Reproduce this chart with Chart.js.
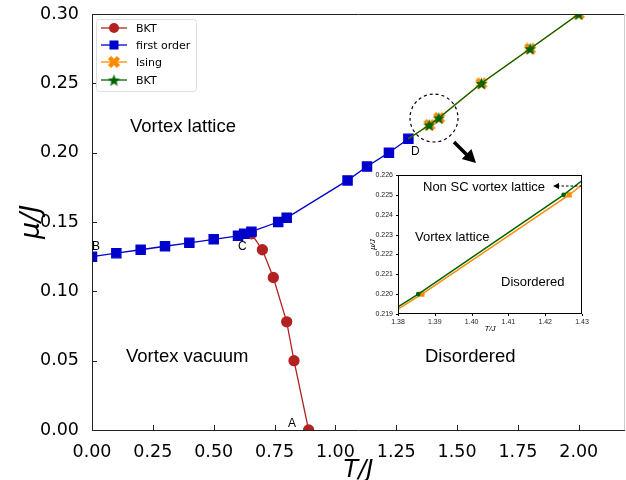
<!DOCTYPE html>
<html>
<head>
<meta charset="utf-8">
<script src="https://cdn.jsdelivr.net/npm/chart.js@4"></script>
<style>
  html, body { margin: 0; padding: 0; background: #fff; }
  #wrap { position: relative; width: 626px; height: 480px; }
  #main { position: absolute; left: 0; top: 0; }
  #inset { position: absolute; left: 360px; top: 170px; }
</style>
</head>
<body>
<div id="wrap">
  <canvas id="main" width="626" height="480"></canvas>
  <canvas id="inset" width="236" height="170"></canvas>
</div>
<script>
// data
const tBKT = [0.655, 0.70, 0.745, 0.80, 0.83, 0.89];
const muBKT = [0.1415, 0.13, 0.11, 0.078, 0.05, 0.0];

const tFirst = [0, 0.1, 0.2, 0.3, 0.4, 0.5, 0.6, 0.625, 0.655, 0.765, 0.8, 1.05, 1.13, 1.22, 1.3];
const muFirst = [0.125, 0.1275, 0.13, 0.1325, 0.135, 0.1375, 0.14, 0.1415, 0.143, 0.15, 0.153, 0.18, 0.19, 0.20, 0.21];

const tIsing = [1.3, 1.3865, 1.4265, 1.6, 1.8, 2.0];
const muIsing = [0.21, 0.22, 0.225, 0.25, 0.275, 0.30];

const tBKT2 = [1.3, 1.3855, 1.425, 1.6, 1.8, 2.0];
const muBKT2 = [0.21, 0.22, 0.225, 0.25, 0.275, 0.30];

const xTicks = [0, 0.25, 0.5, 0.75, 1.0, 1.25, 1.5, 1.75, 2.0];
const yTicks = [0, 0.05, 0.10, 0.15, 0.20, 0.25, 0.30];
const insetXTicks = [1.38, 1.39, 1.40, 1.41, 1.42, 1.43];
const insetYTicks = [0.219, 0.220, 0.221, 0.222, 0.223, 0.224, 0.225, 0.226];

const RED = '#b22222', BLUE = '#0000cd', ORANGE = '#ff8c00', GREEN = '#006400';
const TICK_FONT = 'DejaVu Sans';
const NOTE_FONT = '"Liberation Sans", Arial, sans-serif';

function pts(xs, ys) { return xs.map((x, i) => ({ x: x, y: ys[i] })); }

// no extra label padding around the plot box
function noPad(s) { s.paddingTop = 0; s.paddingBottom = 0; s.paddingLeft = 0; s.paddingRight = 0; }

// filled marker images (matplotlib-like 'X' and '*')
function starImg(color, r) {
  const c = document.createElement('canvas');
  c.width = c.height = Math.ceil(r * 2 + 2);
  const g = c.getContext('2d');
  const cx = c.width / 2, cy = c.height / 2 + r * 0.1;
  g.beginPath();
  for (let i = 0; i < 10; i++) {
    const rr = i % 2 ? r * 0.42 : r;
    const a = -Math.PI / 2 + i * Math.PI / 5;
    g.lineTo(cx + rr * Math.cos(a), cy + rr * Math.sin(a));
  }
  g.closePath();
  g.fillStyle = color;
  g.fill();
  return c;
}
function xImg(color, r) {
  const c = document.createElement('canvas');
  c.width = c.height = Math.ceil(r * 2 + 2);
  const g = c.getContext('2d');
  const cx = c.width / 2, cy = c.height / 2;
  g.strokeStyle = color;
  g.lineWidth = r * 0.75;
  g.beginPath();
  g.moveTo(cx - r * 0.75, cy - r * 0.75); g.lineTo(cx + r * 0.75, cy + r * 0.75);
  g.moveTo(cx + r * 0.75, cy - r * 0.75); g.lineTo(cx - r * 0.75, cy + r * 0.75);
  g.stroke();
  return c;
}
const starMark = starImg(GREEN, 6.5);
const xMark = xImg(ORANGE, 6);

function drawArrowHead(ctx, x1, y1, x2, y2, len, wid) {
  const a = Math.atan2(y2 - y1, x2 - x1);
  ctx.beginPath();
  ctx.moveTo(x2, y2);
  ctx.lineTo(x2 - len * Math.cos(a) + wid * Math.sin(a), y2 - len * Math.sin(a) - wid * Math.cos(a));
  ctx.lineTo(x2 - len * Math.cos(a) - wid * Math.sin(a), y2 - len * Math.sin(a) + wid * Math.cos(a));
  ctx.closePath();
  ctx.fill();
}

const mainDecor = {
  id: 'mainDecor',
  afterDraw(chart) {
    const ctx = chart.ctx;
    const a = chart.chartArea;
    const xs = chart.scales.x, ys = chart.scales.y;
    ctx.save();

    // spines
    ctx.lineWidth = 1;
    ctx.strokeStyle = '#222';
    ctx.beginPath();
    ctx.moveTo(a.left + 0.5, a.top); ctx.lineTo(a.left + 0.5, a.bottom + 0.5);
    ctx.lineTo(a.right, a.bottom + 0.5);
    ctx.moveTo(a.left, a.top + 0.5); ctx.lineTo(a.right, a.top + 0.5);
    ctx.stroke();
    ctx.strokeStyle = '#ccc';
    ctx.beginPath();
    ctx.moveTo(a.right - 0.5, a.top); ctx.lineTo(a.right - 0.5, a.bottom);
    ctx.stroke();

    // inward ticks
    ctx.strokeStyle = '#222';
    ctx.beginPath();
    xTicks.forEach(v => {
      const p = Math.round(xs.getPixelForValue(v)) + 0.5;
      ctx.moveTo(p, a.bottom); ctx.lineTo(p, a.bottom - 5);
    });
    yTicks.forEach(v => {
      const p = Math.round(ys.getPixelForValue(v)) + 0.5;
      ctx.moveTo(a.left, p); ctx.lineTo(a.left + 5, p);
    });
    ctx.stroke();

    // axis titles
    ctx.fillStyle = '#000';
    ctx.textAlign = 'center';
    ctx.textBaseline = 'alphabetic';
    ctx.font = 'italic 24px ' + TICK_FONT;
    ctx.fillText('T/J', (a.left + a.right) / 2, 477);
    ctx.save();
    ctx.translate(39, (a.top + a.bottom) / 2);
    ctx.rotate(-Math.PI / 2);
    ctx.font = 'italic 27px ' + TICK_FONT;
    ctx.fillText('\u03bc/J', 0, 0);
    ctx.restore();

    // region labels
    ctx.textAlign = 'left';
    ctx.font = '18.5px ' + NOTE_FONT;
    ctx.fillText('Vortex lattice', 130, 132);
    ctx.fillText('Vortex vacuum', 126, 362);
    ctx.fillText('Disordered', 425, 362);

    ctx.font = '12px ' + NOTE_FONT;
    ctx.fillText('B', 92, 250);
    ctx.fillText('C', 238, 250);
    ctx.fillText('D', 411, 155);
    ctx.fillText('A', 288, 427);

    // dashed zoom circle + arrow
    ctx.strokeStyle = '#000';
    ctx.lineWidth = 1.2;
    ctx.setLineDash([3, 3]);
    ctx.beginPath();
    ctx.arc(434, 118, 24, 0, Math.PI * 2);
    ctx.stroke();
    ctx.setLineDash([]);
    ctx.lineWidth = 3.5;
    ctx.beginPath();
    ctx.moveTo(454, 142); ctx.lineTo(467, 155);
    ctx.stroke();
    ctx.fillStyle = '#000';
    drawArrowHead(ctx, 454, 142, 476, 163, 13, 7);

    // legend
    ctx.fillStyle = 'rgba(255,255,255,0.85)';
    ctx.strokeStyle = '#ddd';
    ctx.lineWidth = 1;
    ctx.beginPath();
    ctx.roundRect(96.5, 19.5, 100, 72, 3);
    ctx.fill(); ctx.stroke();
    const rows = [28, 45, 62, 80];
    chart.data.datasets.forEach((ds, i) => {
      const y = rows[i];
      ctx.strokeStyle = ds.borderColor;
      ctx.lineWidth = 1.3;
      ctx.beginPath();
      ctx.moveTo(101, y); ctx.lineTo(127, y);
      ctx.stroke();
      const st = ds.pointStyle;
      if (st === 'circle') {
        ctx.fillStyle = ds.borderColor;
        ctx.beginPath(); ctx.arc(114, y, 5, 0, Math.PI * 2); ctx.fill();
      } else if (st === 'rect') {
        ctx.fillStyle = ds.borderColor;
        ctx.fillRect(109.5, y - 4.5, 9, 9);
      } else {
        ctx.drawImage(st, 114 - st.width / 2, y - st.height / 2);
      }
      ctx.fillStyle = '#000';
      ctx.font = '11px ' + TICK_FONT;
      ctx.textBaseline = 'middle';
      ctx.fillText(ds.label, 136, y + 1);
    });
    ctx.restore();
  }
};

const markRadius = [0, 6, 6, 6, 6, 6];

new Chart(document.getElementById('main'), {
  type: 'line',
  data: {
    datasets: [
      { label: 'BKT', data: pts(tBKT, muBKT), borderColor: RED, backgroundColor: RED,
        pointStyle: 'circle', pointRadius: 5, borderWidth: 1.3, order: 3, clip: 0 },
      { label: 'first order', data: pts(tFirst, muFirst), borderColor: BLUE, backgroundColor: BLUE,
        pointStyle: 'rect', pointRadius: 6.5, borderWidth: 1.3, order: 2, clip: 0 },
      { label: 'Ising', data: pts(tIsing, muIsing), borderColor: ORANGE, backgroundColor: ORANGE,
        pointStyle: xMark, pointRadius: markRadius, borderWidth: 1.3, order: 1, clip: 0 },
      { label: 'BKT', data: pts(tBKT2, muBKT2), borderColor: GREEN, backgroundColor: GREEN,
        pointStyle: starMark, pointRadius: markRadius, borderWidth: 1.3, order: 0, clip: 0 }
    ]
  },
  options: {
    responsive: false,
    animation: false,
    devicePixelRatio: 1,
    layout: { autoPadding: false, padding: { top: 14, right: 1, left: 0, bottom: 0 } },
    plugins: { legend: { display: false }, tooltip: { enabled: false } },
    elements: { line: { tension: 0 }, point: { borderWidth: 0 } },
    scales: {
      x: {
        type: 'linear', min: 0, max: 2.19,
        grid: { display: false, drawTicks: false }, border: { display: false },
        afterFit: s => { s.height = 50; noPad(s); },
        afterBuildTicks: s => { s.ticks = xTicks.map(v => ({ value: v })); },
        ticks: { padding: 12, color: '#000', font: { family: TICK_FONT, size: 17.5 },
                 maxRotation: 0, autoSkip: false, callback: v => v.toFixed(2) }
      },
      y: {
        type: 'linear', min: 0, max: 0.30,
        grid: { display: false, drawTicks: false }, border: { display: false },
        afterFit: s => { s.width = 92; noPad(s); },
        afterBuildTicks: s => { s.ticks = yTicks.map(v => ({ value: v })); },
        ticks: { padding: 13, color: '#000', font: { family: TICK_FONT, size: 17.5 },
                 autoSkip: false, callback: v => v.toFixed(2) }
      }
    }
  },
  plugins: [mainDecor]
});

// ---------- inset ----------
const insetDecor = {
  id: 'insetDecor',
  beforeDraw(chart) {
    const ctx = chart.ctx, a = chart.chartArea;
    ctx.save();
    ctx.fillStyle = '#fff';
    ctx.fillRect(a.left, a.top, a.right - a.left, a.bottom - a.top);
    ctx.restore();
  },
  afterDraw(chart) {
    const ctx = chart.ctx, a = chart.chartArea;
    const xs = chart.scales.x, ys = chart.scales.y;
    ctx.save();
    ctx.strokeStyle = '#000';
    ctx.lineWidth = 1;
    ctx.strokeRect(a.left + 0.5, a.top + 0.5, a.right - a.left - 1, a.bottom - a.top - 1);
    ctx.beginPath();
    insetXTicks.forEach(v => {
      const p = Math.round(xs.getPixelForValue(v)) + 0.5;
      ctx.moveTo(p, a.bottom); ctx.lineTo(p, a.bottom + 2);
    });
    insetYTicks.forEach(v => {
      const p = Math.round(ys.getPixelForValue(v)) + 0.5;
      ctx.moveTo(a.left, p); ctx.lineTo(a.left - 2, p);
    });
    ctx.stroke();

    ctx.fillStyle = '#000';
    ctx.font = 'italic 8px ' + NOTE_FONT;
    ctx.textAlign = 'center';
    ctx.fillText('T/J', (a.left + a.right) / 2, 161);
    ctx.save();
    ctx.translate(15, (a.top + a.bottom) / 2);
    ctx.rotate(-Math.PI / 2);
    ctx.fillText('\u03bc/J', 0, 0);
    ctx.restore();

    ctx.textAlign = 'left';
    ctx.font = '13px ' + NOTE_FONT;
    ctx.fillText('Non SC vortex lattice', 63, 21);
    ctx.fillText('Vortex lattice', 55, 71);
    ctx.fillText('Disordered', 141, 116);

    // dashed pointer arrow
    ctx.strokeStyle = '#000';
    ctx.lineWidth = 1.2;
    ctx.setLineDash([2.5, 2]);
    ctx.beginPath();
    ctx.moveTo(222, 16); ctx.lineTo(199, 16);
    ctx.stroke();
    ctx.setLineDash([]);
    drawArrowHead(ctx, 222, 16, 193, 16, 6, 3);
    ctx.restore();
  }
};

new Chart(document.getElementById('inset'), {
  type: 'line',
  data: {
    datasets: [
      { label: 'Ising', data: pts(tIsing, muIsing), borderColor: ORANGE, backgroundColor: ORANGE,
        pointStyle: 'rect', pointRadius: 2.6, borderWidth: 1.5, order: 1, clip: 0 },
      { label: 'BKT', data: pts(tBKT2, muBKT2), borderColor: GREEN, backgroundColor: GREEN,
        pointStyle: 'circle', pointRadius: 1.6, borderWidth: 1.5, order: 0, clip: 0 }
    ]
  },
  options: {
    responsive: false,
    animation: false,
    devicePixelRatio: 1,
    layout: { autoPadding: false, padding: { top: 5, right: 14, left: 0, bottom: 0 } },
    plugins: { legend: { display: false }, tooltip: { enabled: false } },
    elements: { line: { tension: 0 }, point: { borderWidth: 0 } },
    scales: {
      x: {
        type: 'linear', min: 1.38, max: 1.43,
        grid: { display: false, drawTicks: false }, border: { display: false },
        afterFit: s => { s.height = 26; noPad(s); },
        afterBuildTicks: s => { s.ticks = insetXTicks.map(v => ({ value: v })); },
        ticks: { padding: 4, color: '#222', font: { family: NOTE_FONT, size: 7 },
                 maxRotation: 0, autoSkip: false, callback: v => v.toFixed(2) }
      },
      y: {
        type: 'linear', min: 0.219, max: 0.226,
        grid: { display: false, drawTicks: false }, border: { display: false },
        afterFit: s => { s.width = 38; noPad(s); },
        afterBuildTicks: s => { s.ticks = insetYTicks.map(v => ({ value: v })); },
        ticks: { padding: 5, color: '#222', font: { family: NOTE_FONT, size: 7 },
                 autoSkip: false, callback: v => v.toFixed(3) }
      }
    }
  },
  plugins: [insetDecor]
});
</script>
</body>
</html>
